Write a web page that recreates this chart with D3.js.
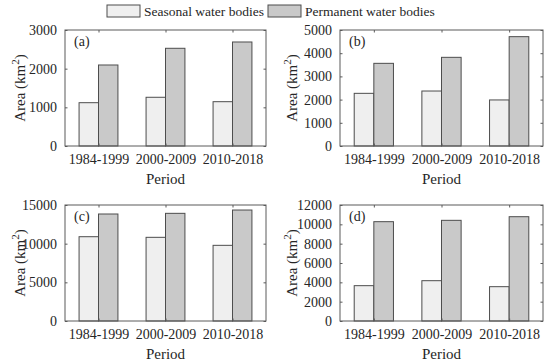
<!DOCTYPE html>
<html>
<head>
<meta charset="utf-8">
<script src="https://cdn.jsdelivr.net/npm/d3@7"></script>
<style>
  body { margin: 0; background: #fff; }
  svg text { font-family: "Liberation Serif", "Times New Roman", Times, serif !important; fill: #262626; }
</style>
</head>
<body>
<div id="chart"></div>
<script>
// data
var periods = ["1984-1999", "2000-2009", "2010-2018"];
var seriesNames = ["Seasonal water bodies", "Permanent water bodies"];
var panelLabels = ["(a)", "(b)", "(c)", "(d)"];
var seasonalArea = [
	[1120, 1260, 1146],
	[2270, 2370, 1985],
	[10900, 10820, 9785],
	[3655, 4170, 3550]
];
var permanentArea = [
	[2095, 2527, 2690],
	[3563, 3822, 4713],
	[13836, 13922, 14350],
	[10275, 10414, 10790]
];
var yTicks = [
	[0, 1000, 2000, 3000],
	[0, 1000, 2000, 3000, 4000, 5000],
	[0, 5000, 10000, 15000],
	[0, 2000, 4000, 6000, 8000, 10000, 12000]
];

var fills = ["#efefef", "#c9c9c9"];
var stroke = "#4d4d4d";
var axisColor = "#5a5a5a";

var svg = d3.select("#chart")
	.append("svg")
	.attr("width", 550)
	.attr("height", 364)
	.attr("font-family", "Liberation Serif");

// panel frames
var frames = [
	{x: 65, y: 30, w: 201, h: 116},
	{x: 340, y: 30, w: 203, h: 116},
	{x: 65, y: 205, w: 201, h: 116},
	{x: 340, y: 205, w: 203, h: 116}
];

frames.forEach(function(f, p){
	var g = svg.append("g").attr("transform", "translate(" + f.x + "," + f.y + ")");
	var yTop = yTicks[p][yTicks[p].length - 1];

	var x0 = d3.scaleBand()
		.domain(periods)
		.range([0, f.w])
		.paddingInner(0.42)
		.paddingOuter(0.21);
	var x1 = d3.scaleBand()
		.domain([0, 1])
		.range([0, x0.bandwidth()]);
	var y = d3.scaleLinear()
		.domain([0, yTop])
		.range([f.h, 0]);

	var rows = periods.map(function(d, i){
		return {period: d, values: [seasonalArea[p][i], permanentArea[p][i]]};
	});

	// bars
	g.selectAll(".grp")
		.data(rows)
		.enter().append("g")
		.attr("transform", function(d){ return "translate(" + x0(d.period) + ",0)"; })
		.selectAll("rect")
		.data(function(d){ return d.values; })
		.enter().append("rect")
		.attr("x", function(d, i){ return x1(i); })
		.attr("y", function(d){ return y(d); })
		.attr("width", x1.bandwidth())
		.attr("height", function(d){ return f.h - y(d); })
		.attr("fill", function(d, i){ return fills[i]; })
		.attr("stroke", stroke)
		.attr("stroke-width", 1);

	// box
	g.append("rect")
		.attr("width", f.w)
		.attr("height", f.h)
		.attr("fill", "none")
		.attr("stroke", axisColor)
		.attr("stroke-width", 1);

	// y axis, ticks pointing inward
	var yAxis = d3.axisLeft(y).tickValues(yTicks[p]).tickFormat(d3.format("d"))
		.tickSizeInner(-2.5).tickSizeOuter(0).tickPadding(8);
	var ya = g.append("g").call(yAxis).attr("font-family", null);
	ya.select(".domain").remove();
	ya.selectAll("line").attr("stroke", axisColor);
	ya.selectAll("text").style("font-size", "14px").attr("fill", "#262626");

	var yr = g.append("g").attr("transform", "translate(" + f.w + ",0)")
		.call(d3.axisRight(y).tickValues(yTicks[p]).tickSizeInner(-2.5).tickSizeOuter(0).tickFormat(""));
	yr.select(".domain").remove();
	yr.selectAll("line").attr("stroke", axisColor);

	// x axis
	var xc = d3.scalePoint().domain(periods).range([f.w / 6, f.w * 5 / 6]);
	var xa = g.append("g").attr("transform", "translate(0," + f.h + ")")
		.call(d3.axisBottom(xc).tickSizeInner(-2.5).tickSizeOuter(0).tickPadding(8))
		.attr("font-family", null);
	xa.select(".domain").remove();
	xa.selectAll("line").attr("stroke", axisColor);
	xa.selectAll("text").style("font-size", "14px").attr("fill", "#262626");

	var xt = g.append("g")
		.call(d3.axisTop(xc).tickSizeInner(-2.5).tickSizeOuter(0).tickFormat(""));
	xt.select(".domain").remove();
	xt.selectAll("line").attr("stroke", axisColor);

	// axis titles
	g.append("text")
		.attr("x", f.w / 2)
		.attr("y", f.h + 38)
		.attr("text-anchor", "middle")
		.style("font-size", "15px")
		.text("Period");

	var yl = g.append("text")
		.attr("transform", "translate(" + (p % 2 === 0 ? -40 : -43) + "," + (f.h / 2) + ") rotate(-90)")
		.attr("text-anchor", "middle")
		.style("font-size", "15px");
	yl.append("tspan").text("Area (km");
	yl.append("tspan").attr("dy", -6).style("font-size", "11px").text("2");
	yl.append("tspan").attr("dy", 6).text(")");

	g.append("text")
		.attr("x", 9)
		.attr("y", 16)
		.style("font-size", "14px")
		.text(panelLabels[p]);
});

// legend
var legend = svg.append("g");
var legendX = [107, 268];
seriesNames.forEach(function(name, i){
	legend.append("rect")
		.attr("x", legendX[i])
		.attr("y", 5)
		.attr("width", 33)
		.attr("height", 12)
		.attr("fill", fills[i])
		.attr("stroke", stroke);
	legend.append("text")
		.attr("x", legendX[i] + 37)
		.attr("y", 16)
		.style("font-size", "13.5px")
		.text(name);
});
</script>
</body>
</html>
